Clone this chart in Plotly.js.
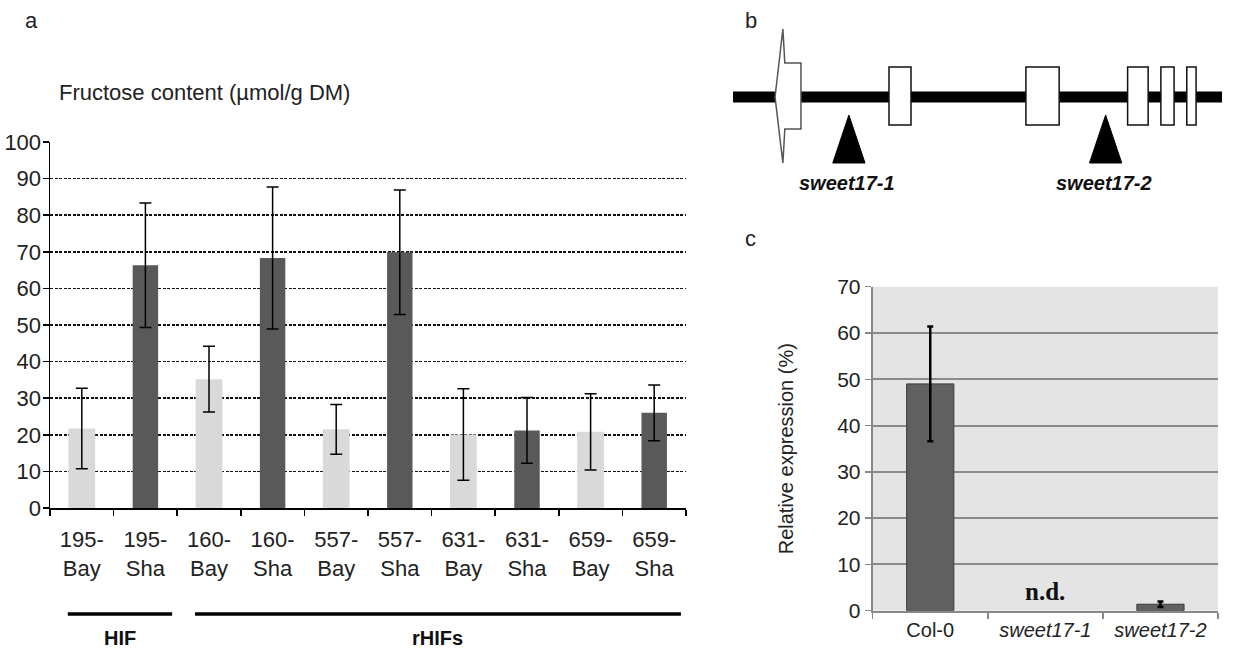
<!DOCTYPE html>
<html><head><meta charset="utf-8">
<script src="https://cdn.plot.ly/plotly-3.0.1.min.js"></script>
<style>html,body{margin:0;padding:0;background:#fff;}#chart{width:1239px;height:651px;}</style>
</head><body><div id="chart"></div>
<script>
// ---- Panel a: fructose content ----
const lines = ['195', '160', '557', '631', '659'];
const bayValues = [21.7, 35.2, 21.5, 20.1, 20.8];
const bayErrors = [11.0, 9.0, 6.8, 12.5, 10.4];
const shaValues = [66.3, 68.3, 69.9, 21.2, 26.0];
const shaErrors = [17.0, 19.4, 17.0, 9.0, 7.6];
const groupNames = ['HIF', 'rHIFs'];
const groupFirst = [0, 2];
const groupLast = [1, 9];
const titleA = 'Fructose content (\u00b5mol/g DM)';

// ---- Panel b: gene structure ----
const geneLength = 1000;
const exonStart = [86, 319, 599, 807, 875, 928];
const exonEnd = [139, 364, 667, 849, 902, 947];
const insertionNames = ['sweet17-1', 'sweet17-2'];
const insertionPos = [237, 762];

// ---- Panel c: relative expression ----
const genotypes = ['Col-0', 'sweet17-1', 'sweet17-2'];
const genotypeLabels = ['Col-0', '<i>sweet17-1</i>', '<i>sweet17-2</i>'];
const exprValues = [49.0, null, 1.4];
const exprErrors = [12.4, null, 0.6];
const notDetected = [false, true, false];

const FONT = 'Liberation Sans, Arial, sans-serif';
const W = 1239, H = 651;
const px = v => v / W;
const py = v => 1 - v / H;

const bayCats = lines.map(l => l + '-<br>Bay');
const shaCats = lines.map(l => l + '-<br>Sha');
const categories = [];
lines.forEach((l, i) => { categories.push(bayCats[i]); categories.push(shaCats[i]); });

const traces = [
  {type: 'bar', x: bayCats, y: bayValues, xaxis: 'x', yaxis: 'y', width: 0.42,
   marker: {color: '#d9d9d9'},
   error_y: {type: 'data', array: bayErrors, visible: true, color: '#000', thickness: 1.5, width: 6}},
  {type: 'bar', x: shaCats, y: shaValues, xaxis: 'x', yaxis: 'y', width: 0.4,
   marker: {color: '#595959'},
   error_y: {type: 'data', array: shaErrors, visible: true, color: '#000', thickness: 1.5, width: 6}},
  {type: 'bar', x: genotypes, y: exprValues, xaxis: 'x2', yaxis: 'y2', width: 0.41,
   marker: {color: '#606060', line: {color: '#3a3a3a', width: 1}},
   error_y: {type: 'data', array: exprErrors, visible: true, color: '#000', thickness: 2.5, width: 3}}
];

const shapes = [];
const annotations = [];

// panel c background
shapes.push({type: 'rect', xref: 'x2 domain', yref: 'y2 domain', x0: 0, x1: 1, y0: 0, y1: 1,
  fillcolor: '#e4e4e4', line: {width: 0}, layer: 'below'});

// panel a group lines
groupNames.forEach((g, i) => {
  const x0 = groupFirst[i] - 0.22, x1 = groupLast[i] + 0.42;
  shapes.push({type: 'line', xref: 'x', yref: 'paper', x0: x0, x1: x1, y0: py(614), y1: py(614),
    line: {color: '#000', width: 3.5}});
  annotations.push({xref: 'x', yref: 'paper', x: (x0 + x1) / 2, y: py(638), text: '<b>' + g + '</b>',
    showarrow: false, font: {family: FONT, size: 20, color: '#111'}, xanchor: 'center', yanchor: 'middle'});
});

// panel b gene diagram
shapes.push({type: 'line', xref: 'x3', yref: 'y3', x0: 0, x1: geneLength, y0: 0, y1: 0,
  line: {color: '#000', width: 11}});
exonStart.forEach((s, i) => {
  const e = exonEnd[i];
  if (i === 0) {
    const tip = s, flare = s + 16, notch = s + 20;
    shapes.push({type: 'path', xref: 'x3', yref: 'y3',
      path: `M ${tip},0 L ${flare},68 L ${notch},34 L ${e},34 L ${e},-32 L ${notch},-32 L ${flare},-66 Z`,
      fillcolor: '#fff', line: {color: '#555', width: 1.5}});
  } else {
    shapes.push({type: 'rect', xref: 'x3', yref: 'y3', x0: s, x1: e, y0: -28, y1: 30,
      fillcolor: '#fff', line: {color: '#111', width: 1.5}});
  }
});
insertionPos.forEach((p, i) => {
  shapes.push({type: 'path', xref: 'x3', yref: 'y3',
    path: `M ${p - 33},-66 L ${p},-18 L ${p + 33},-66 Z`, fillcolor: '#000', line: {color: '#000', width: 1}});
  annotations.push({xref: 'x3', yref: 'y3', x: p - 4, y: -86, text: '<b><i>' + insertionNames[i] + '</i></b>',
    showarrow: false, font: {family: FONT, size: 20, color: '#111'}, xanchor: 'center', yanchor: 'middle'});
});

// n.d. marks
genotypes.forEach((g, i) => {
  if (notDetected[i]) {
    annotations.push({xref: 'x2', yref: 'y2', x: g, y: 0, text: '<b>n.d.</b>', showarrow: false,
      yanchor: 'bottom', yshift: 4, font: {family: 'Liberation Serif, Times New Roman, serif', size: 25, color: '#111'}});
  }
});

// panel a title
annotations.push({xref: 'paper', yref: 'paper', x: px(57), y: py(92), text: titleA, showarrow: false,
  xanchor: 'left', yanchor: 'middle', font: {family: FONT, size: 22, color: '#222'}});

// panel letters
[['a', 31, 20], ['b', 751, 20], ['c', 750, 238]].forEach(([t, x, y]) => {
  annotations.push({xref: 'paper', yref: 'paper', x: px(x), y: py(y), text: t, showarrow: false,
    xanchor: 'center', yanchor: 'middle', font: {family: FONT, size: 22, color: '#222'}});
});

const layout = {
  width: W, height: H,
  margin: {l: 0, r: 0, t: 0, b: 0},
  paper_bgcolor: '#fff', plot_bgcolor: 'rgba(0,0,0,0)',
  showlegend: false, barmode: 'overlay',
  font: {family: FONT, color: '#222'},
  xaxis: {domain: [px(50), px(686)], anchor: 'y', type: 'category', categoryorder: 'array',
    categoryarray: categories, range: [-0.5, 9.5], showline: true, linecolor: '#000', linewidth: 1.5,
    ticks: 'outside', tickson: 'boundaries', ticklen: 6, tickcolor: '#000', tickwidth: 1.5,
    ticklabelstandoff: 11,
    showgrid: false, tickfont: {family: FONT, size: 22, color: '#222'}, automargin: false, fixedrange: true},
  yaxis: {domain: [py(508), py(142)], anchor: 'x', range: [0, 100], dtick: 10, showline: true,
    linecolor: '#000', linewidth: 1.5, ticks: 'outside', ticklen: 6, tickcolor: '#000', tickwidth: 1.5,
    ticklabelstandoff: -3,
    gridcolor: '#111', griddash: '3px,1.5px', gridwidth: 1.5, zeroline: false,
    tickfont: {family: FONT, size: 22, color: '#222'}, automargin: false, fixedrange: true},
  xaxis2: {domain: [px(872.7), px(1218)], anchor: 'y2', type: 'category', categoryorder: 'array',
    categoryarray: genotypes, tickvals: genotypes, ticktext: genotypeLabels, range: [-0.5, 2.5],
    showline: true, linecolor: '#888', linewidth: 2, ticks: 'outside', tickson: 'boundaries', ticklen: 6,
    tickcolor: '#888', tickwidth: 1.5, showgrid: false, tickfont: {family: FONT, size: 20, color: '#222'},
    automargin: false, fixedrange: true},
  yaxis2: {domain: [py(610.7), py(286.7)], anchor: 'x2', range: [0, 70], dtick: 10, showline: true,
    linecolor: '#888', linewidth: 2, ticks: 'outside', ticklen: 6, tickcolor: '#888', tickwidth: 1.5,
    gridcolor: '#8a8a8a', gridwidth: 2, zeroline: false, tickfont: {family: FONT, size: 21, color: '#222'},
    title: {text: 'Relative expression (%)', font: {family: FONT, size: 20, color: '#222'}, standoff: 38},
    automargin: false, fixedrange: true},
  xaxis3: {domain: [px(733), px(1222)], anchor: 'y3', range: [0, geneLength], visible: false, fixedrange: true},
  yaxis3: {domain: [py(200), py(20)], anchor: 'x3', range: [-103, 77], visible: false, fixedrange: true},
  shapes: shapes,
  annotations: annotations
};

Plotly.newPlot('chart', traces, layout, {staticPlot: true, displayModeBar: false});
</script>
</body></html>
